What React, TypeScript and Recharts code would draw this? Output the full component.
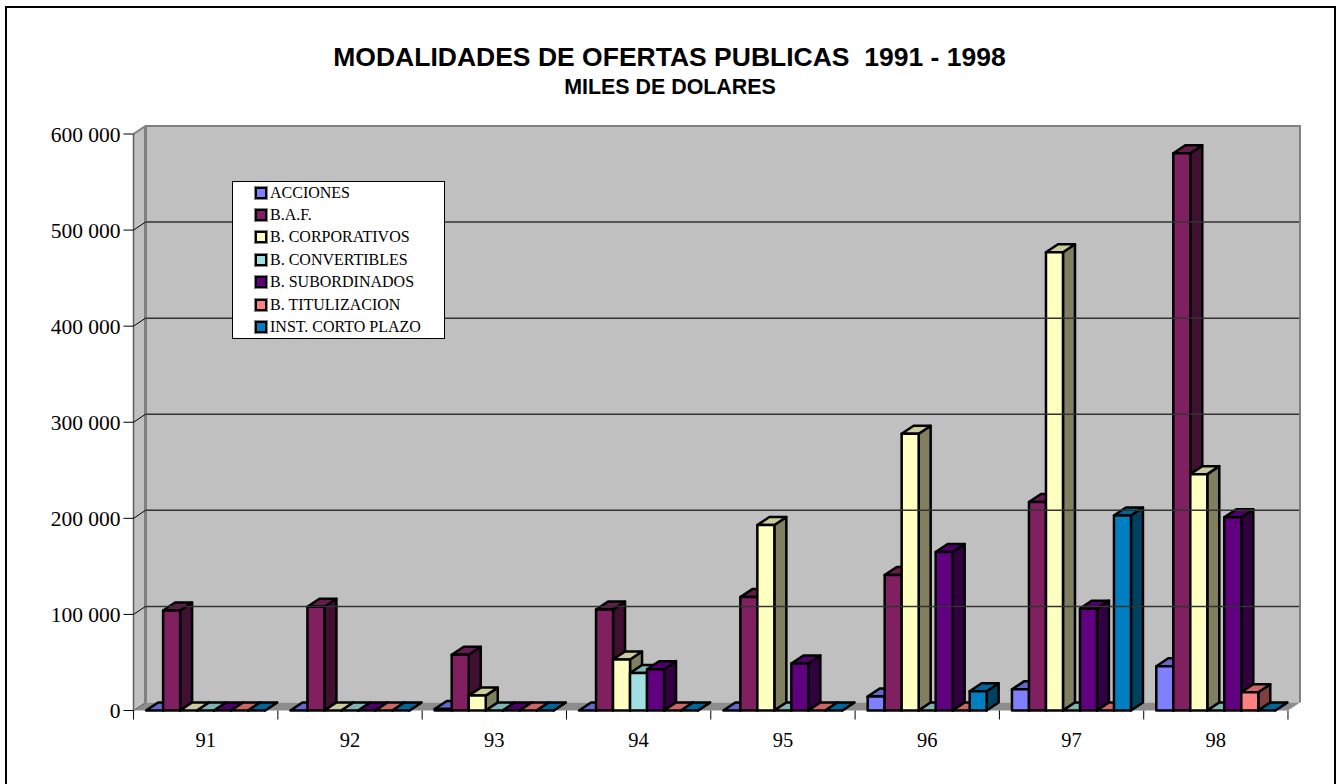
import React from "react";
import { BarChart, Bar, XAxis, YAxis, ReferenceLine, Legend, Customized, usePlotArea } from "recharts";

const years = ["91", "92", "93", "94", "95", "96", "97", "98"];
const acciones = [0, 0, 1500, 0, 0, 14500, 22000, 46000];
const baf = [104000, 108000, 58000, 105000, 118000, 141000, 217000, 580000];
const corporativos = [0, 0, 15500, 53000, 193000, 288000, 477000, 246000];
const convertibles = [0, 0, 0, 39000, 0, 0, 0, 0];
const subordinados = [0, 0, 0, 43000, 49000, 165000, 106000, 201000];
const titulizacion = [0, 0, 0, 0, 0, 0, 0, 19000];
const cortoPlazo = [0, 0, 0, 0, 0, 20000, 203000, 0];
const yTicks = [0, 100000, 200000, 300000, 400000, 500000, 600000];
const gridValues = [100000, 200000, 300000, 400000, 500000];

const series = [
  { key: "acciones", name: "ACCIONES", values: acciones, color: "#8080ff", top: "#6666cc", side: "#404080" },
  { key: "baf", name: "B.A.F.", values: baf, color: "#802060", top: "#661a4d", side: "#401030" },
  { key: "corporativos", name: "B. CORPORATIVOS", values: corporativos, color: "#ffffc0", top: "#cccc9a", side: "#808060" },
  { key: "convertibles", name: "B. CONVERTIBLES", values: convertibles, color: "#a0e0e0", top: "#80b3b3", side: "#507070" },
  { key: "subordinados", name: "B. SUBORDINADOS", values: subordinados, color: "#600080", top: "#4d0066", side: "#300040" },
  { key: "titulizacion", name: "B. TITULIZACION", values: titulizacion, color: "#ff8080", top: "#cc6666", side: "#804040" },
  { key: "cortoPlazo", name: "INST. CORTO PLAZO", values: cortoPlazo, color: "#0080c0", top: "#006699", side: "#004060" },
];

const data = years.map((year, i) => {
  const row: any = { year };
  series.forEach((s) => (row[s.key] = s.values[i]));
  return row;
});

const DX = 12;
const DY = 8;
const serif = "'Liberation Serif', serif";
const sans = "'Liberation Sans', sans-serif";

function Bar3D(props: any) {
  const { x, y, width, height, color, top, side } = props;
  const r = x + width;
  const b = y + height;
  return (
    <g stroke="#000" strokeWidth={2.5} strokeLinejoin="round">
      <path d={`M${r},${y}L${r + DX},${y - DY}V${b - DY}L${r},${b}Z`} fill={side} />
      <path d={`M${x},${y}L${x + DX},${y - DY}H${r + DX}L${r},${y}Z`} fill={top} />
      <rect x={x} y={y} width={width} height={height} fill={color} />
    </g>
  );
}

function Walls() {
  const plot = usePlotArea();
  if (!plot) return null;
  const { x, y, width: w, height: h } = plot;
  const b = y + h;
  const r = x + w;
  return (
    <g>
      <path d={`M${x},${y}L${x + DX},${y - DY}H${r + DX}V${b - DY}H${x + DX}L${x},${b}Z`} fill="#c0c0c0" />
      <path d={`M${x},${b}L${x + DX},${b - DY}H${r + DX}L${r},${b}Z`} fill="#8c8c8c" />
      <path d={`M${x},${y}L${x + DX},${y - DY}H${r + DX}V${b - DY}`} fill="none" stroke="#808080" strokeWidth={2} />
      <line x1={x + DX} y1={y - DY} x2={x + DX} y2={b - DY} stroke="#808080" strokeWidth={3} />
      <line x1={x} y1={y} x2={x} y2={b} stroke="#606060" strokeWidth={1.5} />
      <line x1={x} y1={b} x2={x + DX} y2={b - DY} stroke="#606060" />
      <text x={669.5} y={66} textAnchor="middle" fontFamily={sans} fontWeight="bold" fontSize={26.5} fill="#000" style={{ whiteSpace: "pre" }}>
        MODALIDADES DE OFERTAS PUBLICAS  1991 - 1998
      </text>
      <text x={670} y={94} textAnchor="middle" fontFamily={sans} fontWeight="bold" fontSize={21.4} fill="#000">
        MILES DE DOLARES
      </text>
    </g>
  );
}

function GridLine(props: any) {
  const { x1, x2, y1 } = props;
  return (
    <g>
      <line x1={x1} y1={y1} x2={x1 + DX} y2={y1 - DY} stroke="#000" />
      <line x1={x1 + DX} y1={y1 - DY} x2={x2 + DX - 1} y2={y1 - DY} stroke="#333" strokeWidth={1.5} />
    </g>
  );
}

function YearTick(props: any) {
  const { x, y, payload, index } = props;
  const band = 144.25;
  const top = y - 8;
  return (
    <g>
      <line x1={x - band / 2} y1={top} x2={x - band / 2} y2={top + 9} stroke="#000" />
      {index === years.length - 1 && <line x1={x + band / 2} y1={top} x2={x + band / 2} y2={top + 9} stroke="#000" />}
      <text x={x} y={top + 36} textAnchor="middle" fontFamily={serif} fontSize={20.5} fill="#000">
        {payload.value}
      </text>
    </g>
  );
}

function LegendBox({ payload }: any) {
  return (
    <div style={{ width: 213, height: 158, boxSizing: "border-box", background: "#fff", border: "1px solid #000", position: "relative" }}>
      {(payload || []).map((item: any, i: number) => (
        <div key={item.value} style={{ position: "absolute", left: 22, top: i * 22.4 - 0.5, height: 22, display: "flex", alignItems: "center", fontFamily: serif, fontSize: 16, color: "#000", whiteSpace: "nowrap" }}>
          <span style={{ width: 8, height: 8, border: "2px solid #000", outline: "1px solid #888", background: item.color, marginRight: 3, display: "inline-block" }} />
          {item.value}
        </div>
      ))}
    </div>
  );
}

export default function App() {
  return (
    <div style={{ position: "absolute", left: 0, top: 0, width: 1337, height: 784, overflow: "hidden", background: "#fff" }}>
      <div style={{ position: "absolute", left: 5, top: 6, width: 1327, height: 790, border: "2px solid #000" }} />
      <div style={{ position: "absolute", left: 0, top: 0 }}>
        <BarChart
          width={1337}
          height={784}
          data={data}
          margin={{ top: 134, right: 49, bottom: 0, left: 0 }}
          barCategoryGap={12.6}
          barGap={0}
        >
          <Customized component={Walls} />
          <XAxis dataKey="year" axisLine={false} tickLine={false} tick={YearTick as any} interval={0} height={73.5} />
          <YAxis
            width={133.5}
            domain={[0, 600000]}
            ticks={yTicks}
            interval={0}
            axisLine={false}
            tickSize={10}
            tickMargin={3}
            tickLine={{ stroke: "#000" }}
            tick={{ fontFamily: serif, fontSize: 21.5, fill: "#000" }}
            tickFormatter={(v: number) => String(v).replace(/\B(?=(\d{3})+$)/g, " ")}
          />
          {gridValues.map((v) => (
            <ReferenceLine key={v} y={v} shape={GridLine as any} />
          ))}
          <Legend
            content={LegendBox as any}
            itemSorter={null as any}
            layout="vertical"
            align="center"
            verticalAlign="middle"
            wrapperStyle={{ position: "absolute", left: 232, top: 181, width: 213, height: 158 }}
          />
          {series.map((s) => (
            <Bar
              key={s.key}
              dataKey={s.key}
              name={s.name}
              fill={s.color}
              isAnimationActive={false}
              shape={(p: any) => <Bar3D {...p} color={s.color} top={s.top} side={s.side} />}
            />
          ))}
        </BarChart>
      </div>
    </div>
  );
}
